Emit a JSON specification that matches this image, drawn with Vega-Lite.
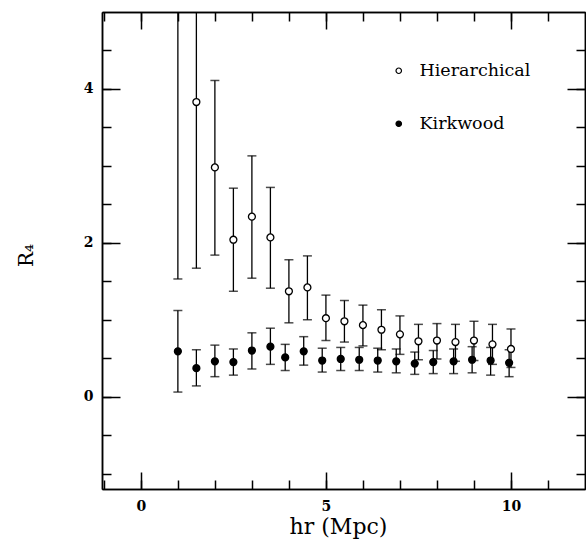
{
  "$schema": "https://vega.github.io/schema/vega-lite/v6.json",
  "width": 483,
  "height": 477,
  "autosize": {"type": "none"},
  "padding": {"left": 102, "top": 12, "right": 1, "bottom": 51},
  "background": "white",
  "config": {
    "view": {"stroke": null},
    "font": "DejaVu Serif",
    "axis": {
      "domainColor": "black",
      "domainWidth": 1.5,
      "tickColor": "black",
      "tickWidth": 1.5,
      "grid": false,
      "labelFont": "DejaVu Serif",
      "labelFontSize": 14,
      "labelFontWeight": "bold",
      "labelColor": "black",
      "titleFont": "DejaVu Serif",
      "titleColor": "black",
      "titleFontWeight": "normal"
    },
    "legend": {
      "labelFont": "DejaVu Serif",
      "labelFontSize": 17.5,
      "labelColor": "black"
    }
  },
  "data": {
    "values": [
      {"series": "Hierarchical", "x": 1.0, "y": 6.0, "lo": 1.53, "hi": 9.0},
      {"series": "Hierarchical", "x": 1.5, "y": 3.83, "lo": 1.67, "hi": 6.5},
      {"series": "Hierarchical", "x": 2.0, "y": 2.98, "lo": 1.84, "hi": 4.11},
      {"series": "Hierarchical", "x": 2.5, "y": 2.04, "lo": 1.37, "hi": 2.71},
      {"series": "Hierarchical", "x": 3.0, "y": 2.34, "lo": 1.54, "hi": 3.13},
      {"series": "Hierarchical", "x": 3.5, "y": 2.07, "lo": 1.41, "hi": 2.72},
      {"series": "Hierarchical", "x": 4.0, "y": 1.37, "lo": 0.96, "hi": 1.78},
      {"series": "Hierarchical", "x": 4.5, "y": 1.42, "lo": 1.0, "hi": 1.83},
      {"series": "Hierarchical", "x": 5.0, "y": 1.02, "lo": 0.73, "hi": 1.32},
      {"series": "Hierarchical", "x": 5.5, "y": 0.98, "lo": 0.71, "hi": 1.25},
      {"series": "Hierarchical", "x": 6.0, "y": 0.93, "lo": 0.66, "hi": 1.19},
      {"series": "Hierarchical", "x": 6.5, "y": 0.87, "lo": 0.61, "hi": 1.13},
      {"series": "Hierarchical", "x": 7.0, "y": 0.81, "lo": 0.55, "hi": 1.05},
      {"series": "Hierarchical", "x": 7.5, "y": 0.72, "lo": 0.48, "hi": 0.94},
      {"series": "Hierarchical", "x": 8.0, "y": 0.73, "lo": 0.49, "hi": 0.95},
      {"series": "Hierarchical", "x": 8.5, "y": 0.71, "lo": 0.46, "hi": 0.94},
      {"series": "Hierarchical", "x": 9.0, "y": 0.73, "lo": 0.47, "hi": 0.98},
      {"series": "Hierarchical", "x": 9.5, "y": 0.68, "lo": 0.42, "hi": 0.94},
      {"series": "Hierarchical", "x": 10.0, "y": 0.62, "lo": 0.38, "hi": 0.88},
      {"series": "Kirkwood", "x": 1.0, "y": 0.59, "lo": 0.06, "hi": 1.12},
      {"series": "Kirkwood", "x": 1.5, "y": 0.37, "lo": 0.14, "hi": 0.61},
      {"series": "Kirkwood", "x": 2.0, "y": 0.46, "lo": 0.26, "hi": 0.67},
      {"series": "Kirkwood", "x": 2.5, "y": 0.45, "lo": 0.28, "hi": 0.62},
      {"series": "Kirkwood", "x": 3.0, "y": 0.6, "lo": 0.36, "hi": 0.83},
      {"series": "Kirkwood", "x": 3.5, "y": 0.65, "lo": 0.42, "hi": 0.89},
      {"series": "Kirkwood", "x": 3.9, "y": 0.51, "lo": 0.34, "hi": 0.68},
      {"series": "Kirkwood", "x": 4.4, "y": 0.59, "lo": 0.41, "hi": 0.78},
      {"series": "Kirkwood", "x": 4.9, "y": 0.47, "lo": 0.32, "hi": 0.63},
      {"series": "Kirkwood", "x": 5.4, "y": 0.49, "lo": 0.34, "hi": 0.64},
      {"series": "Kirkwood", "x": 5.9, "y": 0.48, "lo": 0.34, "hi": 0.64},
      {"series": "Kirkwood", "x": 6.4, "y": 0.47, "lo": 0.32, "hi": 0.63},
      {"series": "Kirkwood", "x": 6.9, "y": 0.46, "lo": 0.31, "hi": 0.62},
      {"series": "Kirkwood", "x": 7.4, "y": 0.43, "lo": 0.29, "hi": 0.58},
      {"series": "Kirkwood", "x": 7.9, "y": 0.45, "lo": 0.3, "hi": 0.6},
      {"series": "Kirkwood", "x": 8.45, "y": 0.46, "lo": 0.3, "hi": 0.62},
      {"series": "Kirkwood", "x": 8.95, "y": 0.48, "lo": 0.31, "hi": 0.65},
      {"series": "Kirkwood", "x": 9.45, "y": 0.47, "lo": 0.28, "hi": 0.64},
      {"series": "Kirkwood", "x": 9.95, "y": 0.44, "lo": 0.26, "hi": 0.61}
    ]
  },
  "resolve": {"axis": {"x": "independent", "y": "independent"}},
  "layer": [
    {
      "mark": {"type": "rule", "clip": true, "color": "black", "strokeWidth": 1.3},
      "encoding": {
        "x": {
          "field": "x", "type": "quantitative",
          "scale": {"domain": [-1.05, 12], "nice": false, "zero": false},
          "axis": {
            "orient": "bottom", "values": [0, 5, 10], "tickSize": -17,
            "labelPadding": 27, "format": "d",
            "title": "hr (Mpc)", "titleFontSize": 22,
            "titleX": 236, "titleY": 44, "titleBaseline": "alphabetic", "titleAlign": "center"
          }
        },
        "y": {
          "field": "lo", "type": "quantitative",
          "scale": {"domain": [-1.2, 5], "nice": false, "zero": false},
          "axis": {
            "orient": "left", "values": [0, 2, 4], "tickSize": -18,
            "labelPadding": 27, "format": "d",
            "title": "R₄", "titleFontSize": 20, "titleAngle": 270,
            "titleX": -76, "titleY": 243, "titleAlign": "center", "titleBaseline": "middle"
          }
        },
        "y2": {"field": "hi"}
      }
    },
    {
      "mark": {"type": "tick", "clip": true, "orient": "horizontal", "color": "black", "size": 9, "thickness": 1.5},
      "encoding": {
        "x": {
          "field": "x", "type": "quantitative",
          "scale": {"domain": [-1.05, 12], "nice": false, "zero": false},
          "axis": {
            "orient": "bottom", "values": [-1, 0, 1, 2, 3, 4, 5, 6, 7, 8, 9, 10, 11],
            "tickSize": -9, "labels": false, "title": null
          }
        },
        "y": {
          "field": "lo", "type": "quantitative",
          "scale": {"domain": [-1.2, 5], "nice": false, "zero": false},
          "axis": {
            "orient": "left", "values": [-1, -0.5, 0, 0.5, 1, 1.5, 2, 2.5, 3, 3.5, 4, 4.5],
            "tickSize": -9, "labels": false, "title": null
          }
        }
      }
    },
    {
      "mark": {"type": "tick", "clip": true, "orient": "horizontal", "color": "black", "size": 9, "thickness": 1.5},
      "encoding": {
        "x": {
          "field": "x", "type": "quantitative",
          "scale": {"domain": [-1.05, 12], "nice": false, "zero": false},
          "axis": {
            "orient": "top", "values": [0, 5, 10], "tickSize": -17,
            "labels": false, "title": null
          }
        },
        "y": {
          "field": "hi", "type": "quantitative",
          "scale": {"domain": [-1.2, 5], "nice": false, "zero": false},
          "axis": {
            "orient": "right", "values": [0, 2, 4], "tickSize": -18,
            "labels": false, "title": null
          }
        }
      }
    },
    {
      "mark": {"type": "point", "clip": true, "shape": "circle", "filled": true, "stroke": "black", "strokeWidth": 1.3, "size": 48, "opacity": 1},
      "encoding": {
        "x": {
          "field": "x", "type": "quantitative",
          "scale": {"domain": [-1.05, 12], "nice": false, "zero": false},
          "axis": {
            "orient": "top", "values": [-1, 0, 1, 2, 3, 4, 5, 6, 7, 8, 9, 10, 11],
            "tickSize": -9, "labels": false, "title": null
          }
        },
        "y": {
          "field": "y", "type": "quantitative",
          "scale": {"domain": [-1.2, 5], "nice": false, "zero": false},
          "axis": {
            "orient": "right", "values": [-1, -0.5, 0, 0.5, 1, 1.5, 2, 2.5, 3, 3.5, 4, 4.5],
            "tickSize": -9, "labels": false, "title": null
          }
        },
        "fill": {
          "field": "series", "type": "nominal",
          "scale": {"domain": ["Hierarchical", "Kirkwood"], "range": ["white", "black"]},
          "legend": {
            "title": null, "orient": "none", "legendX": 288, "legendY": 50,
            "direction": "vertical", "padding": 0, "rowPadding": 34,
            "symbolType": "circle", "symbolSize": 30, "symbolStrokeColor": "black",
            "symbolStrokeWidth": 1.2, "symbolOpacity": 1, "labelOffset": 12
          }
        }
      }
    }
  ]
}
